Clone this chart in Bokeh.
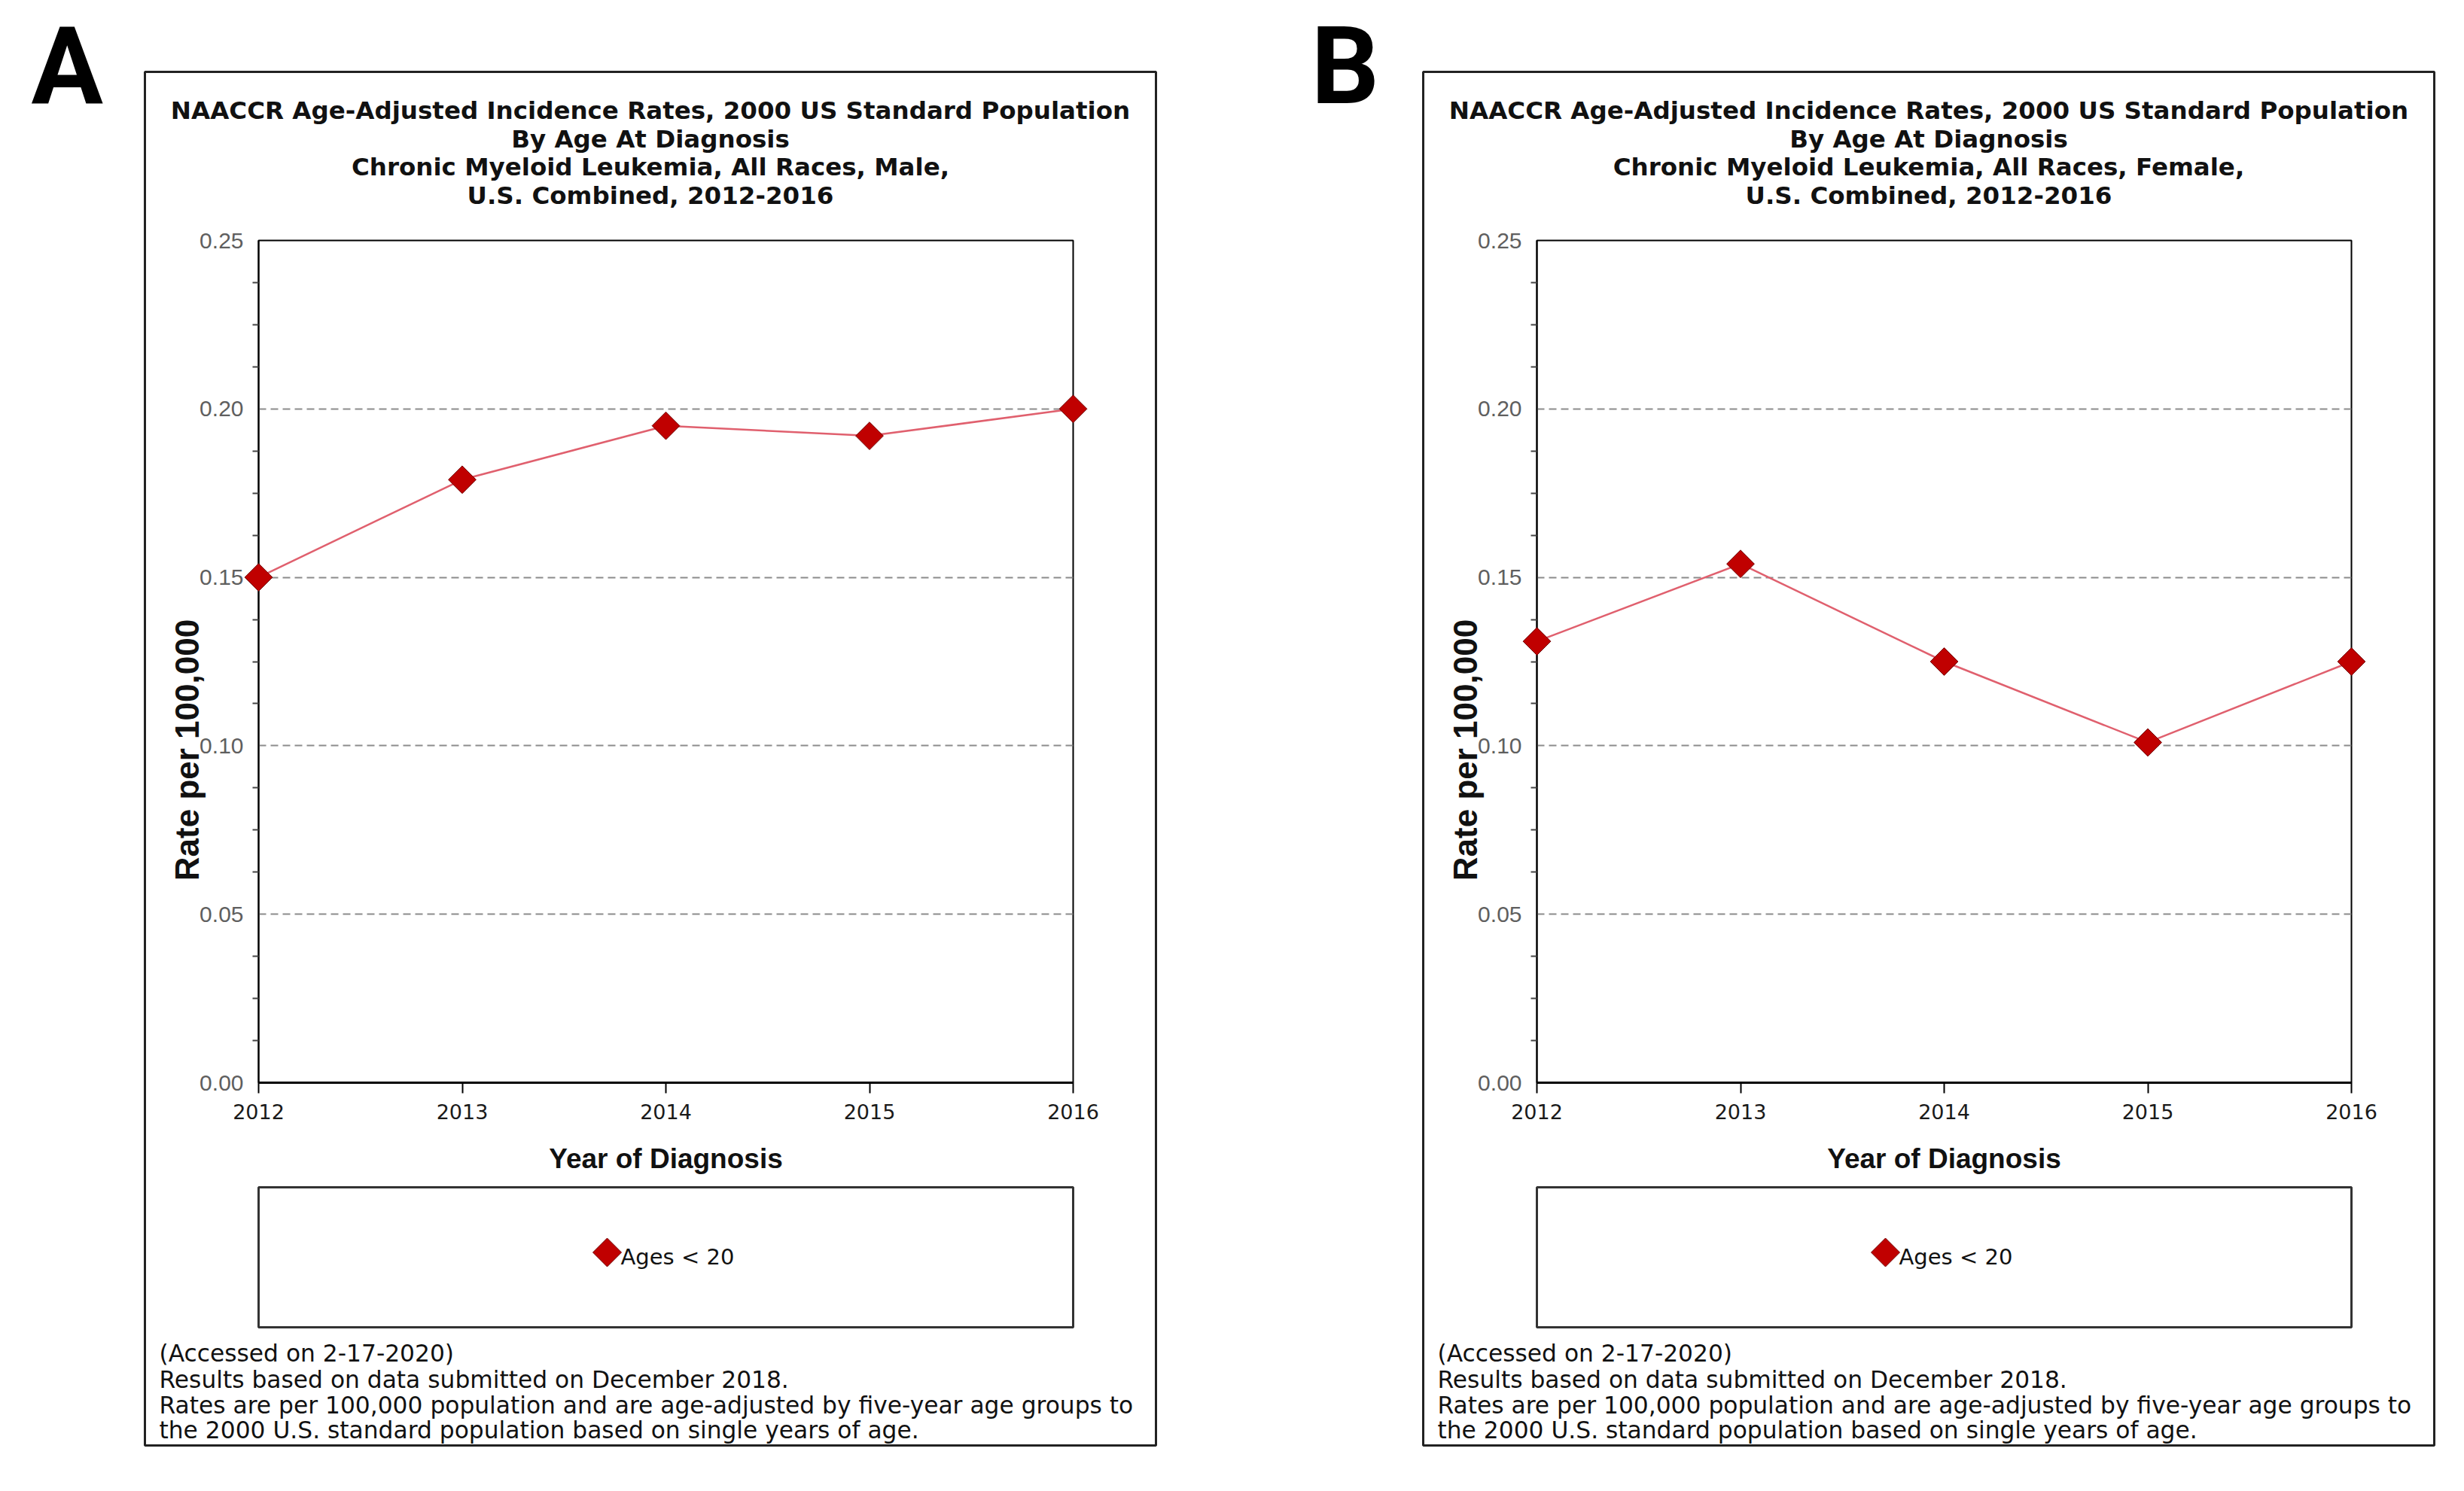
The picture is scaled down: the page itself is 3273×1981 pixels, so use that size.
import math
from bokeh.plotting import figure
from bokeh.layouts import row
from bokeh.models import Range1d, FixedTicker, NumeralTickFormatter
from bokeh.core.properties import value
from bokeh.embed import file_html
from bokeh.resources import INLINE

# ---------------- data ----------------
years = [2012, 2013, 2014, 2015, 2016]
male_rates = [0.150, 0.179, 0.195, 0.192, 0.200]
female_rates = [0.131, 0.154, 0.125, 0.101, 0.125]
y_major = [0.00, 0.05, 0.10, 0.15, 0.20, 0.25]
y_minor = [0.0125, 0.025, 0.0375, 0.0625, 0.075, 0.0875, 0.1125, 0.125, 0.1375,
           0.1625, 0.175, 0.1875, 0.2125, 0.225, 0.2375]

title_top = ["NAACCR Age-Adjusted Incidence Rates, 2000 US Standard Population",
             "By Age At Diagnosis"]
title_male = "Chronic Myeloid Leukemia, All Races, Male,"
title_female = "Chronic Myeloid Leukemia, All Races, Female,"
title_bottom = "U.S. Combined, 2012-2016"
footnote = ["(Accessed on 2-17-2020)",
            "Results based on data submitted on December 2018.",
            "Rates are per 100,000 population and are age-adjusted by five-year age groups to",
            "the 2000 U.S. standard population based on single years of age."]
legend_label = "Ages < 20"
x_label = "Year of Diagnosis"
y_label = "Rate per 100,000"

H = 1980
RED = "#c00000"
LINE_RED = "#e0606e"


def make_panel(letter, letter_x, rates, title_lines, fig_w, BL):
    FL, FR = BL + 151, BL + 1233
    FT, FB = 319, 1438
    x0, x1 = years[0], years[-1]
    y0, y1 = y_major[0], y_major[-1]

    def X(px):
        return x0 + (px - FL) / (FR - FL) * (x1 - x0)

    def Y(py):
        return y0 + (FB - py) / (FB - FT) * (y1 - y0)

    p = figure(width=fig_w, height=H, x_range=Range1d(x0, x1), y_range=Range1d(y0, y1),
               output_backend="svg", toolbar_location=None, min_border=0)
    p.min_border_left = FL
    p.min_border_right = fig_w - FR
    p.min_border_top = FT
    p.min_border_bottom = H - FB
    p.background_fill_color = "white"
    p.border_fill_color = "white"
    p.outline_line_color = "black"
    p.outline_line_width = 2

    # x axis
    xa = p.xaxis[0]
    xa.ticker = FixedTicker(ticks=years)
    xa.formatter = NumeralTickFormatter(format="0")
    xa.major_label_text_font = "DejaVu Sans"
    xa.major_label_text_font_size = "27px"
    xa.major_label_text_color = "#1a1a1a"
    xa.major_tick_out = 14
    xa.major_tick_in = 0
    xa.minor_tick_out = 0
    xa.minor_tick_in = 0
    xa.major_tick_line_width = 2
    xa.axis_line_width = 3
    xa.major_label_standoff = 14
    xa.axis_label = x_label
    xa.axis_label_text_font = "Liberation Sans"
    xa.axis_label_text_font_style = "bold"
    xa.axis_label_text_font_size = "37px"
    xa.axis_label_text_color = "#111111"
    xa.axis_label_standoff = 29

    # y axis
    ya = p.yaxis[0]
    ya.ticker = FixedTicker(ticks=y_major, minor_ticks=y_minor)
    ya.formatter = NumeralTickFormatter(format="0.00")
    ya.major_label_text_font = "Liberation Sans"
    ya.major_label_text_font_size = "30px"
    ya.major_label_text_color = "#5f5f5f"
    ya.major_tick_out = 0
    ya.major_tick_in = 0
    ya.minor_tick_out = 8
    ya.minor_tick_in = 0
    ya.minor_tick_line_color = "#444444"
    ya.minor_tick_line_width = 2
    ya.axis_line_width = 2
    ya.major_label_standoff = 12

    p.xgrid.visible = False
    p.ygrid.ticker = FixedTicker(ticks=y_major[1:-1])
    p.ygrid.grid_line_color = "#8c8c8c"
    p.ygrid.grid_line_dash = "10 6"
    p.ygrid.grid_line_width = 2

    # data
    p.line(years, rates, line_color=LINE_RED, line_width=2.5)
    p.scatter(years, rates, marker="square", angle=math.pi / 4, size=26,
              fill_color=RED, line_color="#700000", line_width=1, level="overlay")

    # ---- page decorations (drawn unclipped on the overlay level) ----
    # outer panel box and legend box
    p.quad(left=[X(BL), X(FL)], right=[X(BL + 1343), X(FR)],
           top=[Y(95), Y(1577)], bottom=[Y(1920), Y(1763)],
           fill_color=None, line_color=["#222222", "#333333"], line_width=3,
           level="overlay")

    # title
    p.text(x=[X(BL + 671.5)] * 4, y=[Y(146), Y(184), Y(221), Y(259)], text=title_lines,
           text_align="center", text_baseline="middle",
           text_font=value("DejaVu Sans"), text_font_style="bold",
           text_font_size="32.5px", text_color="#111111", level="overlay")

    # y axis label
    p.text(x=[X(BL + 56)], y=[Y(996)], text=[y_label], angle=math.pi / 2,
           text_align="center", text_baseline="middle",
           text_font=value("Liberation Sans"), text_font_style="bold",
           text_font_size="44px", text_color="#111111", level="overlay")

    # legend (marker + label)
    cx, cy, hd = BL + 614, 1663.5, 19
    p.patch(x=[X(cx), X(cx + hd), X(cx), X(cx - hd)],
            y=[Y(cy - hd), Y(cy), Y(cy + hd), Y(cy)],
            fill_color=RED, line_color="#700000", line_width=1, level="overlay")
    p.text(x=[X(BL + 632)], y=[Y(1669)], text=[legend_label], text_align="left",
           text_baseline="middle", text_font=value("DejaVu Sans"),
           text_font_size="29px", text_color="#111111", level="overlay")

    # footnote
    p.text(x=[X(BL + 19)] * 4, y=[Y(1797), Y(1832), Y(1866), Y(1899)], text=footnote,
           text_align="left", text_baseline="middle",
           text_font=value("DejaVu Sans"), text_font_size="31.3px",
           text_color="#111111", level="overlay")

    # panel letter
    p.text(x=[X(letter_x)], y=[Y(88)], text=[letter], text_align="left",
           text_baseline="middle", text_font=value("Roboto"),
           text_font_style="bold", text_font_size="142px", text_color="black",
           level="overlay")
    return p


pA = make_panel("A", 41, male_rates, title_top + [title_male, title_bottom], 1705, 192)
pB = make_panel("B", 36, female_rates, title_top + [title_female, title_bottom], 1568, 185)

layout = row(pA, pB, spacing=0)
open("out.html", "w").write(file_html(layout, INLINE))
